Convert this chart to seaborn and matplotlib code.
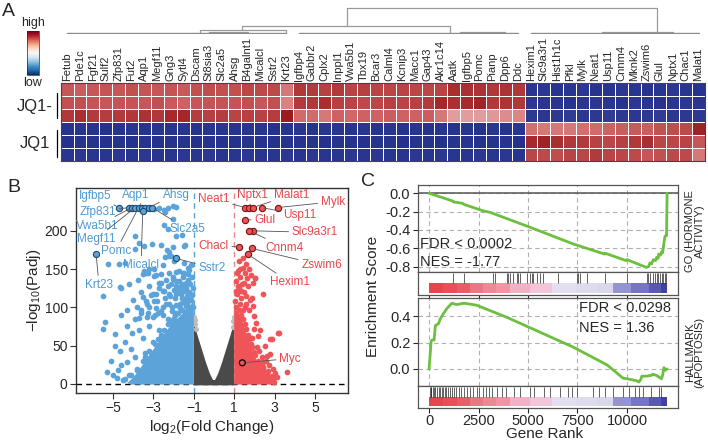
import numpy as np
import pandas as pd
import matplotlib
matplotlib.use("Agg")
import matplotlib.pyplot as plt
import seaborn as sns
from matplotlib.colors import LinearSegmentedColormap
from matplotlib.cm import ScalarMappable

# ---------------- DATA ----------------
genes = ["Fetub", "Pde1c", "Fgf21", "Sulf2", "Zfp831", "Fut2", "Aqp1", "Megf11", "Gng3", "Sytl4",
         "Dscam", "St8sia3", "Slc2a5", "Ahsg", "B4galnt1", "Micalcl", "Sstr2", "Krt23",
         "Igfbp4", "Gabbr2", "Cplx2", "Inppl1", "Vwa5b1", "Tbx19", "Bcar3", "Calml4", "Kcnip3", "Macc1",
         "Gap43", "Akr1c14", "Aatk", "Igfbp5", "Pomc", "Pianp", "Dpp6", "Ddc",
         "Hexim1", "Slc9a3r1", "Hist1h1c", "Pfkl", "Mylk", "Neat1", "Usp11", "Cnnm4", "Mknk2", "Zswim6",
         "Glul", "Nptx1", "Chac1", "Malat1"]
samples = ["JQ1-_1", "JQ1-_2", "JQ1-_3", "JQ1_1", "JQ1_2", "JQ1_3"]
heat_r0 = [0.62, 0.58, 0.62, 0.64, 0.62, 0.66, 0.64, 0.62, 0.64, 0.60, 0.66, 0.68, 0.66, 0.66, 0.72, 0.70, 0.70, 0.45,
           0.82, 0.80, 0.76, 0.80, 0.74, 0.76, 0.74, 0.72, 0.74, 0.72, 0.72, 0.74, 0.88, 0.86, 0.84, 0.82, 0.84, 0.82,
           -0.95, -0.94, -0.96, -0.95, -0.94, -0.96, -0.95, -0.94, -0.95, -0.96, -0.95, -0.94, -0.95, -0.96]
heat_r1 = [0.66, 0.66, 0.64, 0.62, 0.64, 0.64, 0.62, 0.66, 0.60, 0.55, 0.62, 0.64, 0.64, 0.64, 0.66, 0.62, 0.66, 0.42,
           0.80, 0.82, 0.88, 0.76, 0.74, 0.70, 0.72, 0.76, 0.74, 0.76, 0.80, 0.92, 0.86, 0.90, 0.94, 0.82, 0.84, 0.82,
           -0.94, -0.95, -0.95, -0.96, -0.95, -0.94, -0.95, -0.96, -0.94, -0.95, -0.96, -0.95, -0.94, -0.95]
heat_r2 = [0.82, 0.88, 0.80, 0.78, 0.80, 0.82, 0.85, 0.82, 0.90, 0.92, 0.78, 0.76, 0.78, 0.74, 0.76, 0.75, 0.78, 1.00,
           0.50, 0.50, 0.45, 0.55, 0.52, 0.55, 0.55, 0.58, 0.55, 0.55, 0.58, 0.45, 0.32, 0.32, 0.32, 0.34, 0.38, 0.40,
           -0.93, -0.94, -0.93, -0.92, -0.94, -0.93, -0.92, -0.93, -0.94, -0.93, -0.92, -0.94, -0.93, -0.93]
heat_r3 = [-0.96, -0.95, -0.96, -0.97, -0.96, -0.95, -0.96, -0.95, -0.96, -0.95, -0.96, -0.95, -0.95, -0.96, -0.95, -0.95, -0.97, -0.96,
           -0.95, -0.96, -0.95, -0.95, -0.96, -0.95, -0.96, -0.95, -0.96, -0.95, -0.96, -0.95, -0.96, -0.95, -0.96, -0.95, -0.96, -0.95,
           0.48, 0.45, 0.46, 0.45, 0.48, 0.50, 0.55, 0.58, 0.60, 0.58, 0.65, 0.68, 0.70, 0.95]
heat_r4 = [-0.97, -0.96, -0.96, -0.97, -0.96, -0.97, -0.96, -0.97, -0.96, -0.96, -0.97, -0.96, -0.96, -0.97, -0.96, -0.96, -0.97, -0.96,
           -0.96, -0.96, -0.97, -0.96, -0.96, -0.97, -0.96, -0.96, -0.97, -0.96, -0.96, -0.97, -0.96, -0.96, -0.97, -0.96, -0.96, -0.97,
           0.90, 0.95, 0.88, 0.82, 0.80, 0.75, 0.72, 0.76, 0.82, 0.88, 0.72, 0.72, 0.74, 0.62]
heat_r5 = [-0.95, -0.94, -0.95, -0.95, -0.94, -0.95, -0.94, -0.95, -0.95, -0.94, -0.95, -0.94, -0.95, -0.95, -0.94, -0.95, -0.95, -0.94,
           -0.95, -0.94, -0.95, -0.95, -0.94, -0.95, -0.94, -0.95, -0.95, -0.94, -0.95, -0.94, -0.95, -0.95, -0.94, -0.95, -0.94, -0.95,
           0.72, 0.70, 0.68, 0.74, 0.72, 0.80, 0.74, 0.72, 0.70, 0.62, 0.66, 0.70, 0.70, 0.45]
group_labels = ["JQ1-", "JQ1"]

# dendrogram links: (x_left, x_right, h_left, h_right, h_top) in column units / distance
dendro_links = [(10.8, 17.5, 1.5, 1.5, 4.0),
                (14.1, 30.2, 4.0, 1.5, 8.0),
                (22.2, 46.3, 8.0, 1.5, 26.0),
                (11.5, 14.5, 1.5, 1.5, 2.3),
                (31.0, 34.5, 1.5, 1.5, 2.0),
                (42.0, 47.5, 1.5, 1.5, 2.2)]
dendro_flats = [(0.5, 17.5, 1.5), (18.5, 35.5, 1.5), (36.5, 49.5, 1.5)]

# volcano
blue_pts = [(-3.90, 193), (-2.62, 181), (-3.07, 183), (-3.45, 180), (-3.90, 176), (-1.47, 180), (-2.21, 172), (-2.13, 167),
            (-5.26, 157), (-4.72, 156), (-2.96, 228), (-2.70, 230), (-2.50, 227), (-2.30, 230), (-2.05, 232), (-1.88, 231),
            (-2.42, 224), (-2.04, 215), (-2.29, 202), (-2.46, 207), (-1.88, 193), (-1.60, 195), (-1.45, 182), (-2.00, 160),
            (-1.50, 158), (-1.30, 152), (-1.12, 155), (-4.40, 158), (-3.20, 150),
            (-3.53, 143), (-3.37, 145), (-2.96, 141), (-2.62, 143), (-2.21, 145), (-1.88, 146), (-1.55, 145), (-1.30, 143),
            (-2.04, 137), (-1.72, 135), (-1.39, 132), (-2.71, 132), (-3.20, 128), (-4.19, 131), (-1.88, 128), (-1.55, 126),
            (-4.65, 126), (-5.48, 115), (-3.60, 120), (-3.00, 118), (-2.50, 122), (-2.20, 115), (-1.90, 118), (-1.60, 112),
            (-1.30, 120), (-1.15, 110), (-2.80, 108), (-3.30, 105), (-4.00, 110), (-2.40, 105), (-1.70, 104), (-1.40, 102),
            (-3.80, 100), (-4.30, 97), (-2.10, 100),
            (-5.40, 81), (-5.51, 72), (-4.90, 49), (-4.65, 43), (-5.28, 15), (-5.00, 12), (-4.75, 18), (-4.32, 75),
            (-4.07, 66), (-4.60, 90), (-4.90, 65), (-4.40, 55), (-4.10, 45), (-3.90, 85), (-3.60, 92), (-3.30, 88),
            (-3.70, 70), (-3.50, 60), (-3.20, 75), (-2.90, 90), (-2.60, 95), (-3.90, 35), (-4.30, 28), (-4.60, 25),
            (-4.80, 8), (-4.50, 5), (-4.20, 12), (-3.80, 18), (-3.40, 40), (-3.00, 55), (-2.70, 70), (-2.30, 85), (-5.10, 30),
            (-1.20, 110), (-1.35, 104), (-1.60, 97), (-1.80, 92), (-2.00, 86), (-2.20, 80), (-2.50, 70), (-1.10, 116),
            (-1.25, 120), (-1.45, 106), (-1.70, 99), (-1.95, 90), (-2.30, 78), (-2.60, 64), (-2.90, 52), (-3.20, 43),
            (-3.50, 30), (-3.80, 20), (-4.10, 12), (-4.40, 6), (-3.40, 35), (-2.75, 58), (-2.05, 83),
            (-1.05, 125), (-1.20, 130), (-1.10, 140), (-1.35, 115), (-1.50, 122), (-1.05, 100), (-1.25, 92),
            (-3.70, 184), (-2.04, 179), (-2.34, 175), (-2.24, 167), (-2.41, 166), (-3.45, 147), (-3.28, 145),
            (-2.96, 150), (-2.51, 155), (-1.72, 147), (-1.47, 145), (-1.22, 149), (-3.78, 136), (-2.87, 142),
            (-2.62, 132), (-2.38, 136), (-2.04, 140), (-1.88, 134), (-1.55, 140), (-1.30, 136), (-4.60, 125),
            (-3.53, 114), (-3.37, 108), (-3.12, 116), (-2.87, 118), (-2.54, 121), (-2.21, 118), (-1.97, 123),
            (-1.72, 127), (-1.39, 125), (-1.14, 118), (-3.61, 97), (-3.28, 92), (-2.87, 99), (-2.54, 101),
            (-2.21, 105), (-1.88, 103), (-1.55, 108), (-1.30, 101), (-3.70, 86), (-3.03, 88), (-2.54, 90),
            (-1.88, 92), (-1.55, 88), (-1.22, 92), (-2.70, 125), (-2.30, 128), (-1.95, 112), (-1.65, 118),
            (-1.45, 110), (-2.45, 112), (-2.95, 108), (-3.20, 100), (-1.35, 95), (-2.10, 95), (-2.75, 93),
            (-1.75, 122), (-2.15, 130), (-1.25, 132), (-1.60, 130)]
red_pts = [(1.20, 148), (1.45, 152), (1.30, 140), (1.55, 145), (1.75, 150), (1.10, 135), (1.40, 130), (1.65, 138),
           (1.85, 142), (1.25, 125), (1.50, 120), (1.70, 128), (1.95, 132), (2.05, 138), (1.15, 118), (1.35, 112),
           (1.60, 115), (1.80, 110), (1.05, 108), (1.30, 104), (2.44, 117), (2.03, 138), (1.87, 112), (1.95, 102),
           (1.55, 100), (1.75, 96), (1.25, 160), (1.45, 165), (1.60, 157),
           (3.18, 67), (3.24, 66), (2.77, 58), (2.86, 58), (2.24, 43), (2.77, 39), (2.60, 37), (3.63, 15), (2.44, 21),
           (2.69, 17), (2.86, 10), (2.94, 8), (1.98, 89), (2.10, 80), (2.30, 70), (2.50, 50), (2.20, 62), (2.00, 72),
           (2.70, 25), (2.90, 20), (3.00, 14), (2.55, 30), (2.35, 35), (3.10, 9), (2.80, 5), (2.95, 3), (1.90, 60),
           (2.15, 48), (2.40, 28), (2.60, 12),
           (1.10, 100), (1.25, 96), (1.45, 85), (1.60, 72), (1.75, 58), (1.90, 48), (2.05, 38), (2.25, 26), (2.45, 16),
           (2.65, 9), (1.35, 90), (1.55, 78), (1.70, 64), (1.85, 52), (2.00, 42), (2.20, 30), (2.40, 22), (2.60, 14), (2.80, 6),
           (1.08, 122), (1.18, 128), (1.35, 122), (1.50, 132), (1.12, 145), (1.30, 150), (1.60, 105), (1.42, 96)]
fuzz_pts = [(-0.97, 88), (-0.95, 84), (-0.93, 78), (-0.90, 72), (0.95, 82), (0.97, 88), (0.92, 74)]
blue_core = [(-1.0, -1), (-1.0, 108), (-1.4, 96), (-1.7, 88), (-2.0, 80), (-2.4, 68), (-2.8, 52), (-3.2, 38),
             (-3.6, 22), (-4.0, 8), (-4.3, 1), (-4.1, -1)]
red_core = [(1.0, -1), (1.0, 98), (1.2, 94), (1.4, 82), (1.6, 66), (1.8, 50), (2.0, 36), (2.3, 22), (2.6, 12),
            (2.9, 4), (3.0, -1)]
gray_core = [(-1.0, -2), (-1.0, 80), (-0.8, 62), (-0.6, 45), (-0.4, 28), (-0.2, 13), (-0.05, 5), (0.05, 5),
             (0.2, 13), (0.4, 28), (0.6, 45), (0.8, 62), (1.0, 80), (1.0, -2)]
# labelled genes: name, x, y, text x, text y, side
volcano_labels = [("Igfbp5", -4.70, 230.5, -5.89, 246, "down"),
                  ("Zfp831", -4.22, 230.5, -5.75, 224.5, "down"),
                  ("Vwa5b1", -4.06, 230.5, -5.78, 206.5, "down"),
                  ("Megf11", -3.90, 230.5, -5.85, 189.5, "down"),
                  ("Pomc", -3.73, 230.5, -4.85, 174, "down"),
                  ("Aqp1", -3.56, 230.5, -3.86, 247.5, "down"),
                  ("", -3.40, 230.5, None, None, "down"),
                  ("Ahsg", -3.23, 230.5, -1.88, 247.5, "down"),
                  ("Slc2a5", -3.07, 230.5, -1.34, 202.5, "down"),
                  ("Micalcl", -3.53, 225.5, -3.61, 155.5, "down"),
                  ("Krt23", -5.84, 170, -5.69, 129.5, "down"),
                  ("Sstr2", -1.88, 164, -0.10, 151.5, "down"),
                  ("Neat1", 1.55, 230.5, -0.02, 241, "up"),
                  ("Nptx1", 1.75, 230.5, 1.92, 247, "up"),
                  ("Malat1", 1.92, 230.5, 3.85, 247, "up"),
                  ("Usp11", 2.36, 230.5, 4.26, 220.5, "up"),
                  ("Mylk", 3.18, 230.5, 5.89, 238, "up"),
                  ("Glul", 1.53, 214.4, 2.52, 214.4, "up"),
                  ("Slc9a3r1", 1.92, 200, 5.00, 198, "up"),
                  ("Cnnm4", 1.75, 200, 3.51, 178, "up"),
                  ("Chacl", 1.25, 179, -0.02, 180.5, "up"),
                  ("Zswim6", 1.87, 177, 5.33, 155, "up"),
                  ("Hexim1", 1.67, 169.5, 3.76, 132.5, "up")]
myc_label = ("Myc", 1.40, 27.5, 3.76, 33)

# GSEA
rank_top = [0, 1200, 1230, 1700, 1740, 2700, 3100, 4900, 7300, 8880, 8900, 9950, 10000, 10990, 11100, 11160,
            11250, 11330, 11450, 11500, 11580, 11600, 11700, 11750, 11800, 11850, 11920, 11960, 12000, 12030]
es_top = [0.0, -0.085, -0.095, -0.11, -0.12, -0.19, -0.21, -0.355, -0.555, -0.665, -0.655, -0.735, -0.725, -0.81,
          -0.80, -0.76, -0.77, -0.725, -0.735, -0.70, -0.71, -0.665, -0.675, -0.64, -0.65, -0.575, -0.47, -0.465,
          -0.465, 0.0]
rank_bot = [0, 60, 100, 150, 250, 320, 480, 560, 720, 900, 1150, 1400, 1750, 2000, 2400, 3900, 5600, 7300, 9000,
            9800, 10000, 10500, 10600, 10700, 10750, 11000, 11250, 11300, 11500, 11600, 11750, 11800, 11870, 11950, 12030]
es_bot = [0.0, 0.12, 0.21, 0.22, 0.22, 0.33, 0.345, 0.38, 0.42, 0.46, 0.50, 0.49, 0.50, 0.495, 0.485, 0.395, 0.28,
          0.165, 0.03, -0.07, -0.075, -0.09, -0.10, -0.08, -0.055, -0.055, -0.048, -0.04, -0.05, -0.06, -0.075,
          -0.05, 0.01, -0.01, 0.0]
hits_top = [1229, 1768, 3249, 3333, 3922, 4007, 4091, 4259, 4428, 4512, 4596, 4933, 5101, 5185, 5269, 5438, 5606,
            5774, 6532, 7458, 7542, 7626, 7963, 8889, 9983, 10993, 11077, 11162, 11330, 11414, 11498, 11582, 11667,
            11751, 11835, 11919, 11970]
hits_bot = [30, 80, 120, 180, 250, 320, 400, 480, 560, 640, 700, 780, 850, 950, 1050, 1150, 1250, 1350, 1500, 1600,
            1750, 1900, 2050, 2200, 2400, 2500, 2700, 2900, 3050, 3200, 3450, 3700, 3900, 4300, 4600, 5100, 5300, 5800,
            6100, 6600, 7000, 7200, 7500, 8300, 8600, 8900, 9300, 9800, 10100, 10400, 10600, 10800, 11200, 11600, 11700]
strip_bounds = [0, 700, 1400, 2050, 2700, 3400, 4100, 5100, 6200, 7400, 8500, 9300, 10200, 11100, 11700, 12030]
strip_levels = [1.0, 0.97, 0.93, 0.86, 0.82, 0.78, 0.68, 0.62, 0.45, 0.40, 0.36, 0.24, 0.18, 0.10, 0.03]
rank_ticks = [0, 2500, 5000, 7500, 10000]
top_yticks = [0.0, -0.2, -0.4, -0.6, -0.8]
top_yticklabels = ["0.0", "-0.2", "-0.4", "-0.6", "-0.8"]
bot_yticks = [0.0, 0.2, 0.4]
bot_yticklabels = ["0.0", "0.2", "0.4"]

# ---------------- STYLE ----------------
sns.set_theme(style="ticks")
plt.rcParams['font.family'] = ['Liberation Sans', 'DejaVu Sans']
plt.rcParams['mathtext.fontset'] = 'custom'
plt.rcParams['mathtext.rm'] = 'Liberation Sans'
plt.rcParams['mathtext.it'] = 'Liberation Sans:italic'
plt.rcParams['axes.unicode_minus'] = True

BLUE = "#5ba3d9"
RED = "#ef5558"
GRAY = "#4a4a4a"
BLUE_T = "#4d9ad4"
RED_T = "#e8474c"
GREEN = "#6cbf3f"
FRAME = "#444444"

W, H = 708, 443
fig = plt.figure(figsize=(W / 100, H / 100), dpi=100)


def rect(l, t, r, b):
    return [l / W, 1 - b / H, (r - l) / W, (b - t) / H]


def ftext(x, y, s, **kw):
    fig.text(x / W, 1 - y / H, s, **kw)


# ---------------- PANEL A ----------------
df = pd.DataFrame([heat_r0, heat_r1, heat_r2, heat_r3, heat_r4, heat_r5], index=samples, columns=genes)
heat_cmap = LinearSegmentedColormap.from_list(
    "hm", [(0, "#1f2c8a"), (0.5, "#f7f7f7"), (0.75, "#d46a6a"), (1, "#9b1b1e")])
axh = fig.add_axes(rect(60.7, 83, 705, 161))
sns.heatmap(df, ax=axh, cmap=heat_cmap, vmin=-1, vmax=1, cbar=False, linewidths=0.6,
            linecolor="white", xticklabels=True, yticklabels=False)
axh.tick_params(axis='x', top=True, labeltop=True, bottom=False, labelbottom=False,
                length=0, pad=1.5, labelsize=8)
for lab in axh.get_xticklabels():
    lab.set_rotation(90)
    lab.set_va("bottom")
    lab.set_ha("center")
axh.set_xlabel("")
axh.set_ylabel("")
for s in axh.spines.values():
    s.set_visible(True)
    s.set_color(FRAME)
    s.set_linewidth(0.8)

axd = fig.add_axes(rect(60.7, 4, 705, 34))
axd.set_xlim(0, 50)
axd.set_ylim(0, 30)
axd.axis("off")
for xl, xr, hl, hr, ht in dendro_links:
    axd.plot([xl, xl, xr, xr], [hl, ht, ht, hr], color="#9a9a9a", lw=0.9)
for xl, xr, h in dendro_flats:
    axd.plot([xl, xr], [h, h], color="#8a8a8a", lw=1.0)

cax = fig.add_axes(rect(26.7, 31, 39, 75))
cb = fig.colorbar(ScalarMappable(cmap="RdBu_r"), cax=cax, ticks=[])
cb.outline.set_linewidth(0.5)
ftext(32.8, 23, "high", ha="center", va="center", fontsize=9)
ftext(32.8, 83, "low", ha="center", va="center", fontsize=9)
ftext(8, 11, "A", ha="center", va="center", fontsize=14)

ftext(53, 106, group_labels[0], ha="right", va="center", fontsize=12)
ftext(50, 143, group_labels[1], ha="right", va="center", fontsize=12)
fig.add_artist(plt.Line2D([57 / W, 57 / W], [1 - 93 / H, 1 - 118 / H], color="black", lw=0.9))
fig.add_artist(plt.Line2D([57 / W, 57 / W], [1 - 130 / H, 1 - 157 / H], color="black", lw=0.9))

# ---------------- PANEL B ----------------
axb = fig.add_axes(rect(76, 188, 348, 393))
bx, by = zip(*gray_core)
axb.fill(bx, by, color=GRAY, lw=0, zorder=1)
fx, fy = zip(*fuzz_pts)
sns.scatterplot(x=list(fx), y=list(fy), color="#bdbdbd", s=14, linewidth=0, ax=axb, zorder=1)
bx, by = zip(*blue_core)
axb.fill(bx, by, color=BLUE, lw=0, zorder=2)
bx, by = zip(*red_core)
axb.fill(bx, by, color=RED, lw=0, zorder=2)
bdf = pd.DataFrame(blue_pts, columns=["lfc", "p"])
rdf = pd.DataFrame(red_pts, columns=["lfc", "p"])
sns.scatterplot(data=bdf, x="lfc", y="p", color=BLUE, s=17, linewidth=0, ax=axb, zorder=3)
sns.scatterplot(data=rdf, x="lfc", y="p", color=RED, s=17, linewidth=0, ax=axb, zorder=3)
axb.axvline(-1, color=BLUE, lw=1, ls=(0, (4, 3)), zorder=0.5)
axb.axvline(1, color="#e88a8a", lw=1, ls=(0, (4, 3)), zorder=0.5)
axb.axhline(0, color="black", lw=1, ls=(0, (4, 3)), zorder=0.5)

for name, x, y, tx, ty, side in volcano_labels:
    fc = BLUE if side == "down" else RED
    ec = "#1f4a70" if side == "down" else "#7a1010"
    tc = BLUE_T if side == "down" else RED_T
    axb.scatter([x], [y], s=20, facecolor=fc, edgecolor=ec, linewidth=0.8, zorder=5)
    if name:
        axb.annotate(name, xy=(x, y), xytext=(tx, ty), color=tc, fontsize=8.5, ha="center", va="center",
                     arrowprops=dict(arrowstyle="-", color="#555555", lw=0.6, shrinkA=0, shrinkB=2),
                     zorder=6)
mn, mx, my, mtx, mty = myc_label
axb.scatter([mx], [my], s=18, facecolor="none", edgecolor="black", linewidth=0.9, zorder=5)
axb.annotate(mn, xy=(mx, my), xytext=(mtx, mty), color=RED_T, fontsize=8.5, ha="center", va="center",
             arrowprops=dict(arrowstyle="-", color="#555555", lw=0.6, shrinkA=0, shrinkB=3), zorder=6)

axb.set_xlim(-6.83, 6.63)
axb.set_ylim(-12, 256)
axb.set_xticks([-5, -3, -1, 1, 3, 5])
axb.set_yticks([0, 50, 100, 150, 200])
axb.tick_params(labelsize=10, length=4, width=0.8, color="#333333", pad=2)
axb.set_xlabel("log$_2$(Fold Change)", fontsize=11, labelpad=2)
axb.set_ylabel("\u2212log$_{10}$(Padj)", fontsize=11, labelpad=1)
for s in axb.spines.values():
    s.set_color("#333333")
    s.set_linewidth(1.0)
ftext(14, 188, "B", ha="center", va="center", fontsize=14)

# ---------------- PANEL C ----------------
strip_cmap = LinearSegmentedColormap.from_list(
    "strip", [(0, "#3a3898"), (0.2, "#7c7cc6"), (0.35, "#d6d6ec"), (0.5, "#ebe4f2"),
              (0.62, "#f4c4da"), (0.8, "#ee8f9c"), (1, "#e8444e")])
XL = (-560, 12580)


def style_box(ax):
    for s in ax.spines.values():
        s.set_color("#555555")
        s.set_linewidth(0.9)


def gsea_main(rect_px, ranks, es, yticks, ylabels, ylim, zero_solid):
    ax = fig.add_axes(rect(*rect_px))
    sns.lineplot(x=ranks, y=es, color=GREEN, lw=2, ax=ax, zorder=3)
    ax.set_xlim(*XL)
    ax.set_ylim(*ylim)
    ax.set_xticks(rank_ticks)
    ax.set_xticklabels([])
    ax.set_yticks(yticks, labels=ylabels)
    ax.grid(True, ls=(0, (4, 3)), color="#b0b0b0", lw=0.8)
    if zero_solid:
        ax.axhline(0, color="#555555", lw=1.1, zorder=2)
    ax.tick_params(axis="x", length=0)
    ax.tick_params(axis="y", labelsize=10.5, length=3.5, width=0.8, pad=2)
    ax.set_xlabel("")
    ax.set_ylabel("")
    style_box(ax)
    return ax


def gsea_strip(rect_px, hits, labels):
    ax = fig.add_axes(rect(*rect_px))
    ax.pcolormesh(strip_bounds, [0.08, 0.52], [strip_levels], cmap=strip_cmap, vmin=0, vmax=1)
    ax.vlines(hits, 0.52, 0.95, color="#222222", lw=0.5)
    ax.set_xlim(*XL)
    ax.set_ylim(0, 1)
    ax.set_yticks([])
    ax.set_xticks(rank_ticks)
    if labels:
        ax.set_xticklabels([str(t) for t in rank_ticks])
    else:
        ax.set_xticklabels([])
    ax.tick_params(axis="x", labelsize=10.5, length=3.5, width=0.8, pad=1)
    style_box(ax)
    return ax


axc1 = gsea_main((418, 185, 678, 272), rank_top, es_top, top_yticks, top_yticklabels, (-0.86, 0.09), True)
axc1.text(-450, -0.555, "FDR < 0.0002", fontsize=10.5, ha="left", va="center")
axc1.text(-450, -0.752, "NES = -1.77", fontsize=10.5, ha="left", va="center")
gsea_strip((418, 272, 678, 295), hits_top, False)

axc2 = gsea_main((418, 298, 678, 386), rank_bot, es_bot, bot_yticks, bot_yticklabels, (-0.13, 0.54), False)
axc2.text(7560, 0.461, "FDR < 0.0298", fontsize=10.5, ha="left", va="center")
axc2.text(7560, 0.314, "NES = 1.36", fontsize=10.5, ha="left", va="center")
gsea_strip((418, 386, 678, 408), hits_bot, True)

ftext(695, 231, "GO (HORMONE\nACTIVITY)", rotation=90, ha="center", va="center", fontsize=8,
      multialignment="center", linespacing=0.9)
ftext(695, 352, "HALLMARK\n(APOPTOSIS)", rotation=90, ha="center", va="center", fontsize=8,
      multialignment="center", linespacing=0.9)
ftext(373, 296, "Enrichment Score", rotation=90, ha="center", va="center", fontsize=11)
ftext(545, 434, "Gene Rank", ha="center", va="center", fontsize=11)
ftext(368, 182, "C", ha="center", va="center", fontsize=14)

fig.savefig("out.png", dpi=100)
